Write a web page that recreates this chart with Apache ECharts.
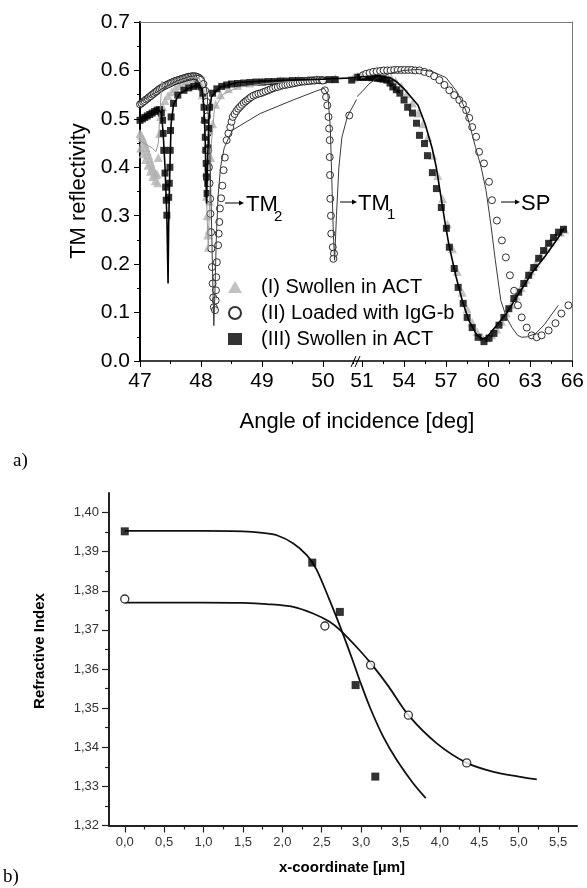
<!DOCTYPE html>
<html><head><meta charset="utf-8">
<script src="https://cdn.jsdelivr.net/npm/echarts@6/dist/echarts.min.js"></script>
<style>html,body{margin:0;padding:0;background:#fff}#c{width:587px;height:888px}</style>
</head><body><div id="c"></div>
<script>
// ---------- Panel a) : TM reflectivity vs angle (broken axis 47-50 | 51-66) ----------
const legendNames = ['(I) Swollen in ACT', '(II) Loaded with IgG-b', '(III) Swollen in ACT'];
const ticksLeft = [47, 48, 49, 50];
const minorLeft = [47.5, 48.5, 49.5, 50.5];
const ticksRight = [51, 54, 57, 60, 63, 66];
const minorRight = [52.5, 55.5, 58.5, 61.5, 64.5];
const ticksRefl = [0, 0.1, 0.2, 0.3, 0.4, 0.5, 0.6, 0.7];

// (I) Swollen in ACT - grey triangles [angle, reflectivity]
const dataI = [
 [47.00,0.470],[47.02,0.466],[47.04,0.461],[47.06,0.455],[47.08,0.448],[47.10,0.441],[47.12,0.433],[47.14,0.425],
 [47.16,0.417],[47.18,0.409],[47.20,0.401],[47.22,0.394],[47.24,0.388],[47.26,0.384],[47.28,0.386],
 [47.01,0.440],[47.05,0.428],[47.09,0.416],[47.13,0.404],[47.17,0.392],[47.21,0.381],[47.25,0.372],[47.29,0.368],
 [47.30,0.420],[47.32,0.470],[47.34,0.505],[47.37,0.525],[47.41,0.538],[47.46,0.548],
 [47.52,0.556],[47.58,0.563],[47.64,0.569],[47.70,0.575],[47.76,0.580],[47.82,0.584],[47.88,0.586],[47.94,0.585],
 [47.99,0.575],[48.02,0.550],[48.05,0.500],[48.07,0.440],[48.08,0.390],[48.09,0.340],[48.10,0.300],[48.11,0.260],
 [48.12,0.235],[48.13,0.270],[48.14,0.330],[48.16,0.420],[48.19,0.490],[48.24,0.530],[48.32,0.550],[48.45,0.562],
 [48.60,0.569],[48.80,0.574],[49.00,0.577],[49.30,0.579],[49.60,0.581],[49.90,0.582],[50.20,0.584],[50.50,0.585],
 [50.70,0.588],[51.00,0.589],[51.30,0.590],[51.60,0.590],[51.90,0.590],[52.20,0.590],[52.50,0.589],[52.80,0.588],
 [53.10,0.584],[53.40,0.578],[53.80,0.568],[54.20,0.552],[54.60,0.533],[55.00,0.512],[55.35,0.490],[55.70,0.462],
 [56.05,0.425],[56.40,0.383],[56.75,0.335],[57.10,0.283],[57.45,0.232],[57.80,0.185],[58.15,0.142],[58.50,0.108],
 [58.85,0.080],[59.20,0.061],[59.55,0.050],[59.90,0.048],[60.25,0.054],[60.60,0.066],[60.95,0.082],[61.30,0.099],
 [61.65,0.117],[62.00,0.134],[62.35,0.152],[62.70,0.169],[63.05,0.186],[63.40,0.202],[63.75,0.218],[64.10,0.233],
 [64.45,0.246],[64.80,0.258],[65.15,0.266],[65.45,0.272]
];
// (II) Loaded with IgG-b - open circles
const dataII = [
 [47.000,0.530],[47.025,0.532],[47.050,0.535],[47.075,0.537],[47.100,0.540],[47.125,0.542],[47.150,0.545],[47.175,0.547],
 [47.200,0.550],[47.225,0.552],[47.250,0.555],[47.275,0.557],[47.300,0.560],[47.325,0.562],[47.350,0.564],[47.375,0.566],
 [47.400,0.568],[47.425,0.569],[47.450,0.571],[47.475,0.572],[47.500,0.574],[47.525,0.575],[47.550,0.577],[47.575,0.578],
 [47.600,0.579],[47.625,0.580],[47.650,0.581],[47.675,0.582],[47.700,0.583],[47.725,0.584],[47.750,0.585],[47.775,0.586],
 [47.800,0.587],[47.825,0.587],[47.850,0.588],[47.875,0.588],[47.900,0.588],[47.925,0.587],[47.950,0.586],[47.975,0.584],
 [48.00,0.581],[48.04,0.572],[48.07,0.558],[48.09,0.535],
 [48.10,0.505],[48.11,0.470],[48.12,0.435],[48.13,0.400],[48.14,0.367],[48.15,0.335],[48.155,0.304],[48.165,0.266],
 [48.17,0.232],[48.18,0.194],[48.19,0.160],[48.20,0.131],[48.21,0.111],[48.23,0.105],[48.24,0.125],[48.245,0.146],
 [48.25,0.173],[48.26,0.204],[48.28,0.239],[48.29,0.263],[48.30,0.287],[48.31,0.315],[48.33,0.336],[48.35,0.362],
 [48.37,0.394],[48.39,0.420],
 [48.42,0.456],[48.45,0.470],[48.48,0.483],[48.50,0.494],[48.52,0.504],[48.55,0.510],[48.58,0.516],[48.61,0.521],
 [48.64,0.525],[48.67,0.529],[48.70,0.533],[48.73,0.536],[48.76,0.539],[48.79,0.542],[48.82,0.545],[48.86,0.548],
 [48.90,0.550],[48.94,0.552],[48.98,0.553],[49.02,0.555],[49.06,0.557],[49.10,0.559],[49.14,0.561],[49.18,0.563],
 [49.22,0.565],[49.26,0.566],[49.30,0.568],[49.34,0.569],[49.38,0.570],[49.42,0.571],[49.46,0.572],[49.50,0.573],
 [49.54,0.574],[49.58,0.575],[49.62,0.576],[49.66,0.577],[49.70,0.577],[49.74,0.578],[49.78,0.578],[49.82,0.579],
 [49.86,0.579],[49.90,0.580],[49.94,0.580],[49.98,0.580],[50.00,0.579],[50.03,0.559],
 [50.05,0.545],[50.07,0.528],[50.09,0.504],[50.10,0.480],[50.11,0.456],[50.11,0.421],[50.115,0.384],[50.12,0.335],
 [50.13,0.300],[50.135,0.263],[50.16,0.235],[50.18,0.222],[50.17,0.211],[50.43,0.507],
 [51.07,0.590],[51.30,0.593],[51.55,0.595],[51.80,0.597],[52.05,0.598],[52.30,0.599],[52.55,0.600],[52.80,0.600],
 [53.05,0.600],[53.30,0.601],[53.55,0.601],[53.80,0.601],[54.05,0.601],[54.30,0.601],[54.55,0.601],[54.80,0.600],
 [55.10,0.600],[55.45,0.597],[55.81,0.594],[56.15,0.588],[56.52,0.580],[56.88,0.570],[57.23,0.559],[57.58,0.549],
 [57.94,0.539],[58.20,0.530],[58.43,0.518],[58.65,0.502],[58.86,0.483],[59.14,0.463],[59.35,0.432],[59.70,0.408],
 [60.06,0.370],[60.27,0.332],[60.62,0.290],[60.98,0.249],[61.26,0.214],[61.55,0.177],[61.85,0.145],[62.12,0.115],
 [62.39,0.090],[62.75,0.069],[63.10,0.053],[63.46,0.049],[63.81,0.053],[64.31,0.063],[64.80,0.078],[65.22,0.098],
 [65.72,0.115],[66.07,0.131]
];
// (III) Swollen in ACT - black squares
const dataIII = [
 [47.00,0.497],[47.04,0.500],[47.08,0.503],[47.12,0.506],[47.16,0.509],[47.20,0.512],[47.24,0.515],[47.28,0.518],
 [47.32,0.519],[47.35,0.512],[47.37,0.497],[47.38,0.470],[47.39,0.435],[47.41,0.388],[47.42,0.359],[47.43,0.332],
 [47.44,0.301],[47.47,0.338],[47.48,0.367],[47.49,0.400],[47.495,0.435],[47.50,0.476],[47.51,0.504],[47.55,0.532],
 [47.62,0.549],[47.72,0.559],[47.80,0.564],[47.88,0.567],[47.95,0.570],[48.00,0.566],[48.03,0.553],[48.05,0.524],
 [48.06,0.497],[48.07,0.462],[48.08,0.435],[48.085,0.408],[48.09,0.380],[48.10,0.346],[48.11,0.367],[48.115,0.400],
 [48.12,0.440],[48.13,0.480],[48.14,0.524],[48.19,0.553],[48.26,0.562],[48.34,0.567],[48.42,0.570],[48.50,0.572],
 [48.60,0.573],[48.70,0.574],[48.80,0.575],[48.90,0.576],[49.00,0.576],[49.10,0.577],[49.20,0.577],[49.30,0.578],
 [49.40,0.578],[49.50,0.579],[49.60,0.579],[49.70,0.579],[49.80,0.580],[49.90,0.580],[50.00,0.580],[50.10,0.581],
 [50.20,0.581],[50.47,0.580],
 [50.70,0.586],[50.90,0.586],[51.10,0.586],[51.30,0.586],[51.50,0.586],[51.70,0.585],[51.90,0.585],[52.10,0.584],
 [52.30,0.583],[52.50,0.582],[52.77,0.580],[53.00,0.574],[53.20,0.566],[53.45,0.560],[53.70,0.553],[54.00,0.539],
 [54.26,0.524],[54.60,0.512],[54.89,0.491],[55.10,0.466],[55.46,0.449],[55.67,0.424],[56.02,0.389],[56.31,0.356],
 [56.66,0.317],[57.02,0.274],[57.23,0.235],[57.58,0.191],[57.86,0.152],[58.22,0.119],[58.50,0.090],[58.86,0.069],
 [59.28,0.049],[59.70,0.040],[60.06,0.047],[60.41,0.057],[60.77,0.074],[61.12,0.090],[61.47,0.108],[61.83,0.129],
 [62.18,0.142],[62.54,0.160],[62.89,0.177],[63.25,0.193],[63.60,0.212],[63.95,0.228],[64.31,0.243],[64.66,0.255],
 [65.02,0.266],[65.37,0.272]
];
// fitted curves
const fitI = [
 [47.00,0.455],[47.10,0.447],[47.20,0.440],[47.26,0.432],[47.30,0.450],[47.33,0.520],[47.36,0.578],[47.39,0.570],
 [47.45,0.565],[47.60,0.575],[47.80,0.585],[47.97,0.585],[48.03,0.560],[48.07,0.470],[48.10,0.300],[48.12,0.230],
 [48.14,0.330],[48.17,0.450],[48.22,0.520],[48.35,0.550],[48.60,0.565],[49.00,0.572],[49.50,0.578],[50.00,0.582],
 [50.55,0.585]
];
const fitII = [
 [47.00,0.535],[47.20,0.550],[47.40,0.565],[47.60,0.578],[47.80,0.587],[47.97,0.590],[48.05,0.582],[48.10,0.555],
 [48.14,0.450],[48.17,0.300],[48.19,0.180],[48.21,0.073],[48.23,0.150],[48.25,0.250],[48.28,0.340],[48.32,0.400],
 [48.38,0.440],[48.45,0.460],[48.52,0.477],[48.97,0.511],[49.51,0.539],[49.90,0.558],[50.02,0.563],[50.08,0.550],
 [50.12,0.480],[50.15,0.350],[50.17,0.260],[50.19,0.208],[50.22,0.300],[50.26,0.400],[50.31,0.462],[50.40,0.505],
 [50.55,0.540],
 [50.65,0.546],[51.00,0.556],[51.50,0.572],[52.00,0.583],[53.00,0.594],[54.00,0.600],[55.00,0.602],[56.00,0.598],
 [57.00,0.585],[57.80,0.555],[58.40,0.518],[59.10,0.441],[59.50,0.400],[59.85,0.352],[60.20,0.280],[60.50,0.210],
 [60.90,0.125],[61.30,0.090],[61.70,0.069],[62.10,0.053],[62.40,0.049],[62.80,0.050],[63.40,0.057],[64.00,0.075],
 [64.50,0.095],[65.00,0.115]
];
const fitIII = [
 [47.00,0.500],[47.20,0.512],[47.30,0.520],[47.35,0.512],[47.38,0.470],[47.41,0.400],[47.44,0.300],[47.46,0.160],
 [47.47,0.280],[47.49,0.400],[47.51,0.490],[47.55,0.530],[47.65,0.552],[47.80,0.563],[47.95,0.570],[48.02,0.562],
 [48.05,0.520],[48.07,0.450],[48.09,0.325],[48.11,0.420],[48.13,0.500],[48.17,0.545],[48.30,0.565],[48.60,0.575],
 [49.00,0.578],[49.50,0.580],[50.00,0.582],[50.55,0.585],
 [50.65,0.586],[51.00,0.587],[52.00,0.588],[53.00,0.585],[53.50,0.576],[54.00,0.562],[54.50,0.545],[55.00,0.528],
 [55.50,0.490],[56.00,0.440],[56.30,0.400],[56.60,0.345],[56.90,0.290],[57.20,0.240],[57.70,0.175],[58.15,0.125],
 [58.60,0.085],[59.20,0.053],[59.60,0.046],[59.90,0.049],[60.30,0.063],[61.30,0.098],[62.20,0.140],[63.10,0.181],
 [64.10,0.218],[65.00,0.255],[65.40,0.274]
];

// ---------- Panel b) : refractive index profile ----------
const ticksXcoord = [0, 0.5, 1, 1.5, 2, 2.5, 3, 3.5, 4, 4.5, 5, 5.5];
const minorXcoord = [0.25, 0.75, 1.25, 1.75, 2.25, 2.75, 3.25, 3.75, 4.25, 4.75, 5.25];
const ticksIndex = [1.32, 1.33, 1.34, 1.35, 1.36, 1.37, 1.38, 1.39, 1.40];
const minorIndex = [1.325, 1.335, 1.345, 1.355, 1.365, 1.375, 1.385, 1.395];
const profSquares = [[0.0,1.3952],[2.38,1.3872],[2.73,1.3746],[2.93,1.3559],[3.18,1.3325]];
const profCircles = [[0.0,1.3779],[2.54,1.3710],[3.12,1.3610],[3.60,1.3482],[4.34,1.3360]];
const profFitSquares = [
 [0.0,1.3953],[0.5,1.3953],[1.0,1.3953],[1.5,1.3952],[1.75,1.3948],[1.93,1.3942],[2.14,1.3921],[2.31,1.3891],
 [2.43,1.3856],[2.60,1.3776],[2.75,1.3700],[2.90,1.3618],[2.98,1.3572],[3.11,1.3503],[3.28,1.3427],[3.45,1.3368],
 [3.66,1.3308],[3.82,1.3270]
];
const profFitCircles = [
 [0.0,1.3770],[0.5,1.3770],[1.0,1.3770],[1.5,1.3769],[1.8,1.3766],[2.14,1.3759],[2.39,1.3742],[2.60,1.3721],
 [2.73,1.3700],[2.98,1.3648],[3.15,1.3608],[3.35,1.3555],[3.60,1.3482],[3.96,1.3410],[4.34,1.3360],[4.68,1.3337],
 [5.00,1.3325],[5.23,1.3318]
];

const FONT = 'Liberation Sans, Arial, sans-serif';
const leftPart = a => a.filter(p => p[0] <= 50.56);
const rightPart = a => a.filter(p => p[0] >= 50.6);
const comma = d => v => v.toFixed(d).replace('.', ',');

const chart = echarts.init(document.getElementById('c'), null, {renderer: 'canvas'});

const topX = (grid, min, max, ticks) => ({
  type: 'value', gridIndex: grid, min: min, max: max, position: 'bottom',
  axisLine: {show: true, onZero: false, lineStyle: {color: '#000', width: 1.5}},
  axisTick: {show: true, customValues: ticks, length: 6, lineStyle: {color: '#000', width: 1}},
  axisLabel: {show: true, customValues: ticks, fontSize: 21, fontFamily: FONT, color: '#000', margin: 10},
  splitLine: {show: false}
});
const minorX = (grid, min, max, ticks, len) => ({
  type: 'value', gridIndex: grid, min: min, max: max, position: 'bottom',
  axisLine: {show: false, onZero: false},
  axisTick: {show: true, customValues: ticks, length: len, lineStyle: {color: '#000', width: 1}},
  axisLabel: {show: false}, splitLine: {show: false}
});
const topBorder = (grid, min, max) => ({
  type: 'value', gridIndex: grid, min: min, max: max, position: 'top',
  axisLine: {show: true, onZero: false, lineStyle: {color: '#7a7a7a', width: 1}},
  axisTick: {show: false}, axisLabel: {show: false}, splitLine: {show: false}
});

const L0 = 47, L1 = 50.557, R0 = 50.646, R1 = 66;

const scatterStyle = {
  I: {symbol: 'triangle', symbolSize: 9, itemStyle: {color: '#b3b3b3'}},
  II: {symbol: 'circle', symbolSize: 7, itemStyle: {color: '#fff', borderColor: '#000', borderWidth: 1}},
  III: {symbol: 'rect', symbolSize: 7, itemStyle: {color: '#000'}}
};
const mkScatter = (name, st, data, xi, yi) => Object.assign({
  type: 'scatter', name: name, xAxisIndex: xi, yAxisIndex: yi, data: data, z: 2, silent: true
}, st);
const mkLine = (name, data, xi, yi, color, width) => ({
  type: 'line', name: name, xAxisIndex: xi, yAxisIndex: yi, data: data, showSymbol: false, symbol: 'none',
  lineStyle: {color: color, width: width}, z: 5, silent: true
});

const arrow = (x1, x2, y) => [
  {type: 'line', shape: {x1: x1, y1: y, x2: x2 - 4, y2: y}, style: {stroke: '#000', lineWidth: 1}},
  {type: 'polygon', shape: {points: [[x2 - 5, y - 2.5], [x2, y], [x2 - 5, y + 2.5]]}, style: {fill: '#000'}}
];
const txt = (x, y, s, size, extra) => Object.assign({
  type: 'text', x: x, y: y,
  style: {text: s, fontSize: size, fontFamily: FONT, fill: '#000', align: 'left', verticalAlign: 'middle'}
}, extra || {});

chart.setOption({
  animation: false,
  backgroundColor: '#fff',
  grid: [
    {left: 140, top: 22, width: 217, height: 339},
    {left: 357, top: 22, width: 218, height: 339},
    {left: 109, top: 493, width: 468, height: 332.5}
  ],
  legend: {
    data: legendNames, orient: 'vertical', left: 223, top: 272, itemWidth: 14, itemHeight: 12, itemGap: 6,
    selectedMode: false,
    textStyle: {fontSize: 20, fontFamily: FONT, color: '#000', padding: [0, 0, 0, 14]}
  },
  xAxis: [
    topX(0, L0, L1, ticksLeft),
    minorX(0, L0, L1, minorLeft, 3),
    topX(1, R0, R1, ticksRight),
    minorX(1, R0, R1, minorRight, 3),
    topBorder(0, L0, L1),
    topBorder(1, R0, R1),
    {
      type: 'value', gridIndex: 2, min: -0.2, max: 5.74, position: 'bottom',
      axisLine: {show: true, onZero: false, lineStyle: {color: '#222', width: 2}},
      axisTick: {show: true, customValues: ticksXcoord, length: 7, lineStyle: {color: '#222', width: 1.2}},
      axisLabel: {show: true, customValues: ticksXcoord, formatter: comma(1), fontSize: 13, fontFamily: FONT, color: '#333', margin: 10},
      splitLine: {show: false}
    },
    {
      type: 'value', gridIndex: 2, min: -0.2, max: 5.74, position: 'bottom',
      axisLine: {show: false, onZero: false},
      axisTick: {show: true, customValues: minorXcoord, length: 4, lineStyle: {color: '#222', width: 1.2}},
      axisLabel: {show: false}, splitLine: {show: false}
    }
  ],
  yAxis: [
    {
      type: 'value', gridIndex: 0, min: 0, max: 0.7, position: 'left',
      axisLine: {show: true, onZero: false, lineStyle: {color: '#000', width: 2}},
      axisTick: {show: true, customValues: ticksRefl, length: 6, lineStyle: {color: '#000', width: 1}},
      axisLabel: {show: true, customValues: ticksRefl, formatter: v => v.toFixed(1), fontSize: 21, fontFamily: FONT, color: '#000', margin: 10},
      minorTick: {show: false}, splitLine: {show: false}
    },
    {
      type: 'value', gridIndex: 1, min: 0, max: 0.7, position: 'right',
      axisLine: {show: true, onZero: false, lineStyle: {color: '#7a7a7a', width: 1}},
      axisTick: {show: false}, axisLabel: {show: false}, splitLine: {show: false}
    },
    {
      type: 'value', gridIndex: 0, min: 0, max: 0.7, position: 'left',
      axisLine: {show: false, onZero: false},
      axisTick: {show: true, customValues: [0.05, 0.15, 0.25, 0.35, 0.45, 0.55, 0.65], length: 3, lineStyle: {color: '#000', width: 1}},
      axisLabel: {show: false}, splitLine: {show: false}
    },
    {
      type: 'value', gridIndex: 2, min: 1.32, max: 1.405, position: 'left',
      axisLine: {show: true, onZero: false, lineStyle: {color: '#222', width: 2}},
      axisTick: {show: true, customValues: ticksIndex, length: 7, lineStyle: {color: '#222', width: 1.2}},
      axisLabel: {show: true, customValues: ticksIndex, formatter: comma(2), fontSize: 13, fontFamily: FONT, color: '#333', margin: 10},
      splitLine: {show: false}
    },
    {
      type: 'value', gridIndex: 2, min: 1.32, max: 1.405, position: 'left',
      axisLine: {show: false, onZero: false},
      axisTick: {show: true, customValues: minorIndex, length: 4, lineStyle: {color: '#222', width: 1.2}},
      axisLabel: {show: false}, splitLine: {show: false}
    }
  ],
  series: [
    mkScatter(legendNames[0], scatterStyle.I, leftPart(dataI), 0, 0),
    mkScatter(legendNames[0], scatterStyle.I, rightPart(dataI), 2, 1),
    mkScatter(legendNames[2], scatterStyle.III, leftPart(dataIII), 0, 0),
    mkScatter(legendNames[2], scatterStyle.III, rightPart(dataIII), 2, 1),
    mkScatter(legendNames[1], scatterStyle.II, leftPart(dataII), 0, 0),
    mkScatter(legendNames[1], scatterStyle.II, rightPart(dataII), 2, 1),
    mkLine('fitI', leftPart(fitI), 0, 0, '#9a9a9a', 1),
    mkLine('fitII', leftPart(fitII), 0, 0, '#3a3a3a', 1),
    mkLine('fitII', rightPart(fitII), 2, 1, '#3a3a3a', 1),
    mkLine('fitIII', leftPart(fitIII), 0, 0, '#000', 1.6),
    mkLine('fitIII', rightPart(fitIII), 2, 1, '#000', 1.6),
    {type: 'line', name: 'fitSq', xAxisIndex: 6, yAxisIndex: 3, data: profFitSquares, smooth: 0.3, showSymbol: false, symbol: 'none',
     lineStyle: {color: '#111', width: 1.8}, z: 2, silent: true},
    {type: 'line', name: 'fitCi', xAxisIndex: 6, yAxisIndex: 3, data: profFitCircles, smooth: 0.3, showSymbol: false, symbol: 'none',
     lineStyle: {color: '#111', width: 1.8}, z: 2, silent: true},
    {type: 'scatter', name: 'sq', xAxisIndex: 6, yAxisIndex: 3, data: profSquares, symbol: 'rect', symbolSize: 8,
     itemStyle: {color: '#000'}, z: 4, silent: true},
    {type: 'scatter', name: 'ci', xAxisIndex: 6, yAxisIndex: 3, data: profCircles, symbol: 'circle', symbolSize: 8,
     itemStyle: {color: '#fff', borderColor: '#000', borderWidth: 1.3}, z: 4, silent: true}
  ],
  graphic: [
    // axis break mark
    {type: 'line', shape: {x1: 351, y1: 367, x2: 356, y2: 356}, style: {stroke: '#000', lineWidth: 1}},
    {type: 'line', shape: {x1: 355, y1: 367, x2: 360, y2: 356}, style: {stroke: '#000', lineWidth: 1}},
    // mode annotations
    ...arrow(225, 244, 203),
    txt(246, 205, 'TM', 22),
    txt(274, 217, '2', 15),
    ...arrow(340, 357, 202),
    txt(358, 204, 'TM', 22),
    txt(387, 215, '1', 15),
    ...arrow(501, 520, 202),
    txt(521, 204, 'SP', 22),
    // titles
    txt(79, 191, 'TM reflectivity', 22, {rotation: Math.PI / 2, style: {text: 'TM reflectivity', fontSize: 22, fontFamily: FONT, fill: '#000', align: 'center', verticalAlign: 'middle'}}),
    txt(357, 422, 'Angle of incidence [deg]', 22, {style: {text: 'Angle of incidence [deg]', fontSize: 22, fontFamily: FONT, fill: '#000', align: 'center', verticalAlign: 'middle'}}),
    txt(13, 461, 'a)', 19, {style: {text: 'a)', fontSize: 19, fontFamily: 'Liberation Serif, Times New Roman, serif', fill: '#000', align: 'left', verticalAlign: 'middle'}}),
    txt(40, 651, 'Refractive Index', 15, {rotation: Math.PI / 2, style: {text: 'Refractive Index', fontSize: 15, fontWeight: 'bold', fontFamily: FONT, fill: '#000', align: 'center', verticalAlign: 'middle'}}),
    txt(342, 868, 'x-coordinate [µm]', 15, {style: {text: 'x-coordinate [µm]', fontSize: 15, fontWeight: 'bold', fontFamily: FONT, fill: '#000', align: 'center', verticalAlign: 'middle'}}),
    txt(3, 877, 'b)', 19, {style: {text: 'b)', fontSize: 19, fontFamily: 'Liberation Serif, Times New Roman, serif', fill: '#000', align: 'left', verticalAlign: 'middle'}})
  ]
});
</script></body></html>
